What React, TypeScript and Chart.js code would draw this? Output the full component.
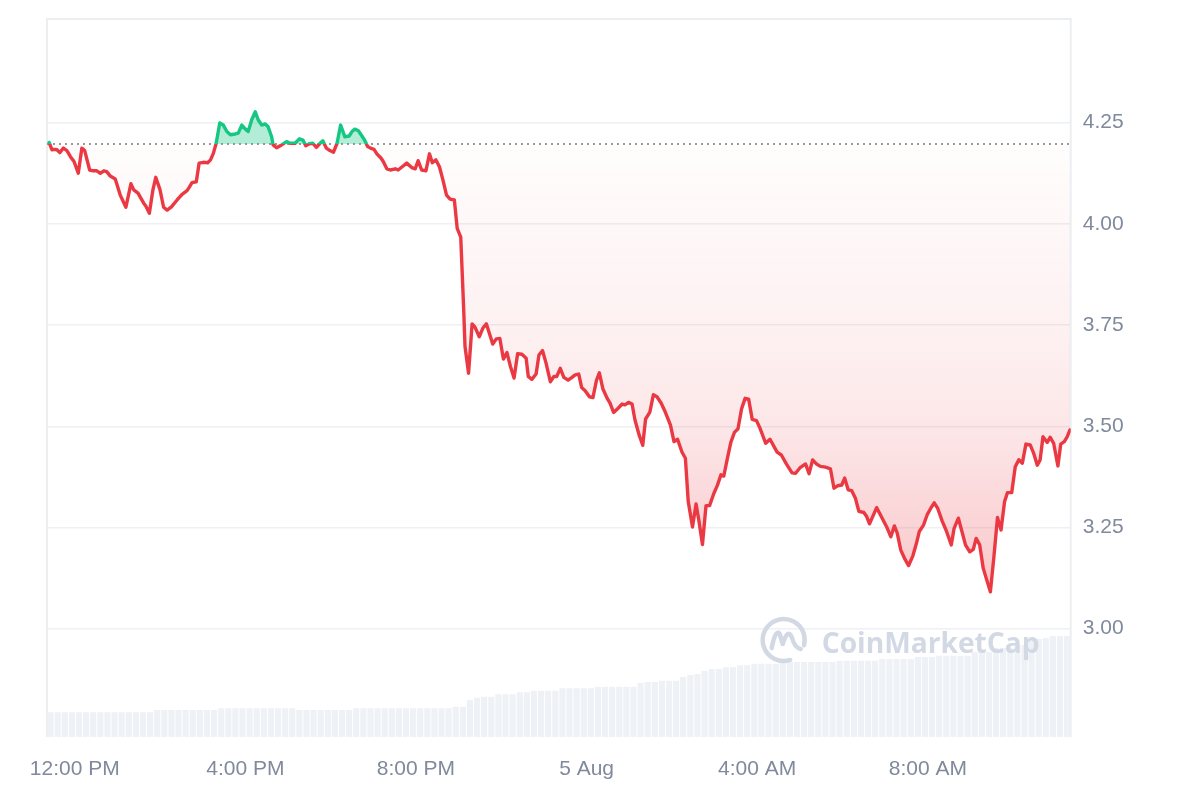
import React, { useEffect, useRef } from "react";
import { Chart, registerables } from "chart.js";

Chart.register(...registerables);

// Window: 24h starting 11:21 AM (4 Aug). Times are minutes since window start.
const baselinePrice = 4.197;

const priceTimes = [3,7,11,14,18,23,28,33,38,44,49,53,60,65,70,75,80,84,89,96,103,111,118,122,128,136,139,144,149,153,159,164,169,175,183,190,197,200,204,210,214,220,226,230,234,238,243,248,253,258,265,269,274,279,283,288,293,297,302,307,311,316,318,323,330,337,342,349,355,360,364,369,374,379,384,388,393,398,403,408,413,419,425,429,433,438,443,447,451,455,460,464,470,473,478,483,490,494,501,506,513,518,522,527,533,538,542,547,552,557,562,567,573,577,582,586,588,593,598,602,608,613,618,622,627,632,637,642,647,652,657,662,668,674,677,682,688,692,697,702,708,713,717,722,727,733,738,743,748,752,757,763,768,773,777,782,788,792,797,803,809,813,818,823,827,833,838,842,848,853,858,864,870,877,882,887,893,898,902,908,913,917,922,927,932,938,943,948,952,957,962,967,972,977,982,987,992,998,1003,1011,1017,1027,1033,1040,1048,1053,1059,1067,1072,1077,1083,1088,1095,1102,1107,1112,1118,1122,1127,1132,1137,1142,1149,1153,1157,1167,1173,1181,1187,1192,1196,1201,1207,1212,1218,1223,1227,1233,1238,1243,1248,1253,1259,1265,1272,1276,1282,1287,1292,1298,1303,1307,1312,1317,1322,1327,1332,1337,1342,1347,1351,1357,1362,1367,1372,1377,1383,1388,1393,1397,1401,1407,1411,1416,1422,1426,1431,1435,1439];

const priceValues = [4.201,4.183,4.184,4.183,4.176,4.187,4.181,4.166,4.154,4.125,4.187,4.181,4.133,4.131,4.131,4.125,4.131,4.129,4.118,4.111,4.071,4.041,4.099,4.084,4.076,4.051,4.044,4.026,4.084,4.115,4.084,4.041,4.034,4.042,4.059,4.073,4.082,4.090,4.102,4.104,4.150,4.152,4.151,4.158,4.174,4.199,4.249,4.244,4.228,4.220,4.222,4.224,4.244,4.234,4.228,4.257,4.277,4.257,4.244,4.247,4.240,4.215,4.195,4.188,4.195,4.203,4.199,4.199,4.210,4.207,4.193,4.198,4.199,4.189,4.199,4.205,4.187,4.181,4.177,4.199,4.244,4.215,4.217,4.228,4.234,4.230,4.217,4.206,4.191,4.187,4.184,4.173,4.162,4.154,4.136,4.133,4.136,4.133,4.143,4.150,4.139,4.136,4.156,4.133,4.131,4.173,4.151,4.158,4.141,4.108,4.071,4.061,4.059,3.989,3.967,3.795,3.697,3.631,3.753,3.745,3.721,3.742,3.753,3.731,3.703,3.716,3.717,3.666,3.682,3.647,3.619,3.679,3.678,3.668,3.623,3.616,3.629,3.676,3.687,3.656,3.610,3.623,3.623,3.643,3.621,3.614,3.620,3.627,3.629,3.596,3.588,3.573,3.571,3.614,3.632,3.592,3.569,3.557,3.534,3.544,3.555,3.553,3.559,3.555,3.516,3.478,3.453,3.518,3.535,3.578,3.573,3.557,3.534,3.503,3.462,3.468,3.437,3.421,3.314,3.251,3.308,3.267,3.208,3.304,3.304,3.334,3.354,3.380,3.377,3.420,3.461,3.485,3.494,3.543,3.569,3.567,3.517,3.514,3.495,3.458,3.468,3.436,3.429,3.407,3.385,3.384,3.397,3.407,3.383,3.417,3.406,3.401,3.399,3.395,3.347,3.353,3.355,3.372,3.343,3.341,3.323,3.290,3.287,3.277,3.259,3.299,3.279,3.252,3.227,3.254,3.236,3.194,3.171,3.156,3.180,3.211,3.240,3.256,3.281,3.297,3.311,3.297,3.267,3.242,3.207,3.248,3.273,3.240,3.207,3.190,3.196,3.223,3.207,3.149,3.120,3.091,3.178,3.275,3.244,3.314,3.336,3.336,3.400,3.417,3.409,3.456,3.454,3.433,3.404,3.417,3.474,3.460,3.473,3.458,3.402,3.456,3.462,3.474,3.491];

// 10-minute volume buckets (144), arbitrary units
const volumeValues = [
  24.7,24.7,24.7,24.7,24.7,24.7,24.7,24.7,24.7,24.7,24.7,24.7,24.7,24.7,24.7,
  27,27,27,27,27,27,27,27,27,
  28.7,28.7,28.7,28.7,28.7,28.7,28.7,28.7,28.7,28.7,28.7,
  27,27,27,27,27,27,27,27,
  28.7,28.7,28.7,28.7,28.7,28.7,28.7,28.7,28.7,28.7,28.7,28.7,28.7,28.7,
  30.3,30.3,
  37,39.3,40.3,40.3,42.7,42.7,42.7,44.7,44.7,
  46.3,46.3,46.3,46.3,48.7,48.7,48.7,48.7,48.7,
  50.3,50.3,50.3,50.3,50.3,50.3,54,55,55,56.3,56.3,56.3,
  60,62,63,66,68,68,69.7,69.7,71.7,71.7,
  73.3,73.3,73.3,73.3,75,75,75,75,75,75,75,75,
  76.3,76.3,76.3,76.3,76.3,76.3,78,78,78,78,78,
  80,80,80,81.3,81.3,81.3,81.3,81.3,
  85,85,85,89,89,89,92,92,96,98,99,101,101,101
];

const xTickTimes = [39, 279, 519, 759, 999, 1239];
const xTickLabels = ["12:00 PM", "4:00 PM", "8:00 PM", "5 Aug", "4:00 AM", "8:00 AM"];
const yTickValues = [3.0, 3.25, 3.5, 3.75, 4.0, 4.25];

const GREEN = "#16c784";
const RED = "#ea3943";
const LABEL = "#808a9d";
const GRID = "#eef0f3";
const FONT = "'Liberation Sans', Arial, Helvetica, sans-serif";

export default function App() {
  const ref = useRef<HTMLCanvasElement>(null);

  useEffect(() => {
    const canvas = ref.current;
    if (!canvas) return;
    const n = Math.min(priceTimes.length, priceValues.length);
    const pricePoints = priceTimes.slice(0, n).map((t, i) => ({ x: t, y: priceValues[i] }));
    const volumePoints = volumeValues.map((v, i) => ({ x: i * 10 + 5, y: v }));
    const baselinePoints = [
      { x: 0, y: baselinePrice },
      { x: 1440, y: baselinePrice },
    ];

    const framePlugin = {
      id: "frame",
      beforeDatasetsDraw(chart: any) {
        const { ctx, chartArea } = chart;
        const { left, top, right, bottom } = chartArea;
        ctx.save();
        ctx.strokeStyle = "#eceef1";
        ctx.lineWidth = 2;
        ctx.beginPath();
        ctx.moveTo(left, bottom);
        ctx.lineTo(left, top);
        ctx.lineTo(right, top);
        ctx.lineTo(right, bottom);
        ctx.stroke();
        ctx.restore();
      },
    };

    const watermarkPlugin = {
      id: "watermark",
      afterDatasetsDraw(chart: any) {
        const { ctx, chartArea } = chart;
        const { right, bottom } = chartArea;
        const col = "#d2d9e5";
        ctx.save();
        ctx.strokeStyle = col;
        ctx.fillStyle = col;
        ctx.lineWidth = 4.5;
        ctx.lineCap = "round";
        ctx.lineJoin = "round";
        const cx = right - 287;
        const cy = bottom - 97;
        const r = 21;
        ctx.beginPath();
        ctx.arc(cx, cy, r, 0.4 * Math.PI, 2.08 * Math.PI);
        ctx.stroke();
        ctx.beginPath();
        ctx.moveTo(cx - 12, cy + 8);
        ctx.quadraticCurveTo(cx - 8, cy - 12, cx - 4, cy - 6);
        ctx.lineTo(cx - 1, cy + 4);
        ctx.quadraticCurveTo(cx + 4, cy - 12, cx + 8, cy - 3);
        ctx.quadraticCurveTo(cx + 11, cy + 8, cx + 17, cy + 9);
        ctx.stroke();
        const text = "CoinMarketCap";
        ctx.font = "bold 30px 'Open Sans', 'Noto Sans', sans-serif";
        const w = ctx.measureText(text).width;
        const size = (30 * 218) / w;
        ctx.font = `bold ${size}px 'Open Sans', 'Noto Sans', sans-serif`;
        ctx.textBaseline = "alphabetic";
        ctx.textAlign = "left";
        ctx.fillText(text, right - 249, bottom - 84);
        ctx.restore();
      },
    };

    const lineColor = (context: any) => {
      const chart = context.chart;
      const { ctx, chartArea, scales } = chart;
      if (!chartArea || !scales.y) return RED;
      const yb = scales.y.getPixelForValue(baselinePrice);
      const h = chartArea.bottom - chartArea.top;
      const f = Math.max(0, Math.min(1, (yb - chartArea.top) / h));
      const g = ctx.createLinearGradient(0, chartArea.top, 0, chartArea.bottom);
      g.addColorStop(0, GREEN);
      g.addColorStop(f, GREEN);
      g.addColorStop(Math.min(1, f + 0.0001), RED);
      g.addColorStop(1, RED);
      return g;
    };

    const belowFill = (context: any) => {
      const chart = context.chart;
      const { ctx, chartArea, scales } = chart;
      if (!chartArea || !scales.y) return "rgba(234,57,67,0.1)";
      const y = scales.y;
      const yb = y.getPixelForValue(baselinePrice);
      const bottom = chartArea.bottom;
      const g = ctx.createLinearGradient(0, yb, 0, bottom);
      const frac = (v: number) => Math.max(0, Math.min(1, (y.getPixelForValue(v) - yb) / (bottom - yb)));
      g.addColorStop(0, "rgba(234,57,67,0.01)");
      g.addColorStop(frac(3.75), "rgba(234,57,67,0.07)");
      g.addColorStop(frac(3.5), "rgba(234,57,67,0.12)");
      g.addColorStop(frac(3.1), "rgba(234,57,67,0.28)");
      g.addColorStop(1, "rgba(234,57,67,0.3)");
      return g;
    };

    const chart = new Chart(canvas, {
      data: {
        datasets: [
          {
            type: "line",
            label: "Price",
            data: pricePoints,
            xAxisID: "x",
            yAxisID: "y",
            borderColor: lineColor,
            backgroundColor: belowFill,
            borderWidth: 3.4,
            pointRadius: 0,
            tension: 0,
            borderJoinStyle: "round",
            borderCapStyle: "round",
            fill: { target: { value: baselinePrice }, above: "rgba(22,199,132,0.32)" },
            order: 0,
          } as any,
          {
            type: "line",
            label: "Baseline",
            data: baselinePoints,
            xAxisID: "x",
            yAxisID: "y",
            borderColor: "#9a9a9a",
            borderWidth: 2,
            borderDash: [2, 4],
            pointRadius: 0,
            fill: false,
            order: 1,
          } as any,
          {
            type: "bar",
            label: "Volume",
            data: volumePoints,
            xAxisID: "x",
            yAxisID: "vol",
            backgroundColor: "#eef1f5",
            barPercentage: 0.86,
            categoryPercentage: 1,
            order: 2,
          } as any,
        ],
      },
      options: {
        responsive: false,
        animation: false,
        layout: { padding: { left: 47, top: 19, right: 0, bottom: 0 } },
        plugins: {
          legend: { display: false },
          tooltip: { enabled: false },
        },
        scales: {
          x: {
            type: "linear",
            min: 0,
            max: 1440,
            offset: false,
            grid: { display: false, drawTicks: false, offset: false },
            border: { display: false },
            afterBuildTicks: (s: any) => {
              s.ticks = xTickTimes.map((v) => ({ value: v }));
            },
            afterFit: (s: any) => {
              s.height = 63;
              s.paddingLeft = 0;
              s.paddingRight = 0;
            },
            ticks: {
              autoSkip: false,
              maxRotation: 0,
              padding: 20,
              color: LABEL,
              font: { family: FONT, size: 21 },
              callback: (_v: any, i: number) => xTickLabels[i],
            },
          },
          y: {
            type: "linear",
            position: "right",
            min: 2.7325,
            max: 4.506,
            afterBuildTicks: (s: any) => {
              s.ticks = yTickValues.map((v) => ({ value: v }));
            },
            afterFit: (s: any) => {
              s.width = 129.3;
              s.paddingTop = 0;
              s.paddingBottom = 0;
            },
            grid: { color: GRID, lineWidth: 1.5, drawTicks: false },
            border: { display: false },
            ticks: {
              padding: 12,
              color: LABEL,
              font: { family: FONT, size: 21 },
              callback: (v: any) => Number(v).toFixed(2),
            },
          },
          vol: {
            type: "linear",
            display: false,
            min: 0,
            max: 718,
          },
        },
      } as any,
      plugins: [framePlugin, watermarkPlugin],
    });

    return () => chart.destroy();
  }, []);

  return (
    <div style={{ position: "fixed", left: 0, top: 0, width: 1200, height: 800, background: "#ffffff" }}>
      <canvas ref={ref} width={1200} height={800} style={{ display: "block" }} />
    </div>
  );
}
